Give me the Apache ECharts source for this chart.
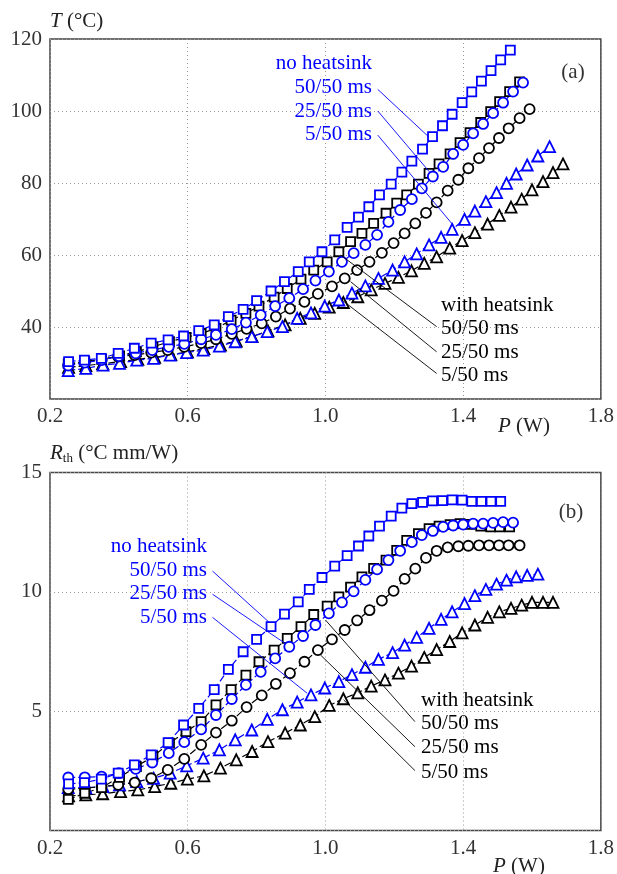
<!DOCTYPE html>
<html>
<head>
<meta charset="utf-8">
<script src="https://cdn.jsdelivr.net/npm/echarts@6/dist/echarts.min.js"></script>
<style>
  html, body { margin: 0; padding: 0; background: #fff; }
  #chart { width: 617px; height: 874px; }
</style>
</head>
<body>
<div id="chart"></div>
<script>
// power P (W) of each point, per series (nh = no heatsink, hs = with heatsink; 50/25/5 = pulse ms)
const pNh50 = [0.254, 0.300, 0.349, 0.398, 0.445, 0.494, 0.543, 0.588, 0.632, 0.677, 0.718, 0.761, 0.800, 0.842, 0.881, 0.921, 0.953, 0.990, 1.027, 1.063, 1.096, 1.126, 1.157, 1.191, 1.222, 1.251, 1.282, 1.311, 1.340, 1.368, 1.397, 1.425, 1.453, 1.481, 1.509, 1.537];
const pHs50 = [0.253, 0.301, 0.350, 0.402, 0.451, 0.499, 0.547, 0.595, 0.639, 0.682, 0.726, 0.769, 0.807, 0.851, 0.889, 0.929, 0.966, 1.005, 1.039, 1.073, 1.106, 1.140, 1.176, 1.207, 1.236, 1.270, 1.301, 1.330, 1.362, 1.391, 1.420, 1.451, 1.480, 1.506, 1.535, 1.564];
const pNh25 = [0.253, 0.301, 0.350, 0.400, 0.449, 0.497, 0.545, 0.590, 0.639, 0.682, 0.728, 0.769, 0.812, 0.854, 0.895, 0.935, 0.971, 1.010, 1.048, 1.082, 1.116, 1.150, 1.183, 1.217, 1.251, 1.280, 1.312, 1.342, 1.371, 1.400, 1.429, 1.458, 1.487, 1.516, 1.545, 1.574];
const pHs25 = [0.253, 0.301, 0.350, 0.398, 0.446, 0.494, 0.542, 0.590, 0.639, 0.682, 0.728, 0.771, 0.815, 0.856, 0.897, 0.939, 0.978, 1.019, 1.056, 1.092, 1.128, 1.164, 1.198, 1.230, 1.261, 1.292, 1.323, 1.355, 1.386, 1.415, 1.446, 1.475, 1.504, 1.532, 1.564, 1.593];
const pNh5  = [0.253, 0.304, 0.354, 0.402, 0.452, 0.501, 0.549, 0.597, 0.645, 0.692, 0.738, 0.786, 0.831, 0.875, 0.918, 0.958, 0.998, 1.039, 1.077, 1.116, 1.154, 1.195, 1.230, 1.265, 1.301, 1.336, 1.368, 1.404, 1.434, 1.466, 1.497, 1.526, 1.554, 1.586, 1.617, 1.651];
const pHs5  = [0.254, 0.304, 0.353, 0.405, 0.455, 0.504, 0.551, 0.599, 0.647, 0.695, 0.741, 0.787, 0.833, 0.883, 0.927, 0.969, 1.011, 1.052, 1.094, 1.133, 1.173, 1.212, 1.250, 1.287, 1.323, 1.361, 1.397, 1.434, 1.471, 1.505, 1.539, 1.570, 1.600, 1.632, 1.661, 1.690];

// (a) temperature T (°C)
const tNh50 = [30.4, 30.8, 31.3, 32.7, 34.1, 35.5, 36.4, 37.5, 39.0, 40.6, 42.9, 44.9, 47.3, 50.0, 52.6, 55.4, 58.1, 60.9, 64.2, 67.7, 70.5, 73.4, 76.7, 79.7, 83.0, 86.1, 89.4, 92.9, 95.9, 99.1, 102.3, 105.3, 108.3, 111.2, 114.2, 116.9];
const tHs50 = [29.8, 30.4, 31.0, 32.0, 33.1, 34.5, 35.9, 37.1, 38.2, 39.6, 41.9, 43.8, 45.8, 48.3, 50.7, 53.3, 55.8, 58.1, 60.9, 63.7, 66.0, 68.8, 71.6, 74.4, 76.7, 79.7, 82.7, 85.3, 88.1, 91.2, 94.0, 96.8, 99.8, 102.6, 105.4, 108.1];
const tNh25 = [29.3, 30.1, 30.8, 31.9, 32.7, 33.6, 34.5, 35.3, 36.6, 37.8, 39.4, 41.2, 43.3, 45.8, 48.0, 50.5, 52.9, 55.4, 58.1, 60.5, 62.8, 65.6, 69.2, 72.5, 75.5, 78.5, 81.8, 84.5, 88.1, 90.6, 93.8, 96.4, 99.4, 102.3, 105.4, 107.9];
const tHs25 = [29.4, 30.4, 31.0, 31.8, 32.2, 32.9, 33.6, 34.5, 35.5, 36.6, 38.1, 39.5, 41.0, 42.9, 45.1, 47.0, 49.2, 51.3, 53.5, 55.8, 58.1, 60.6, 63.3, 66.0, 68.8, 71.7, 74.6, 77.9, 80.9, 84.1, 86.9, 89.7, 92.5, 95.2, 98.0, 100.5];
const tNh5  = [27.9, 28.5, 29.4, 29.9, 30.8, 31.3, 32.2, 32.9, 33.6, 34.7, 35.9, 37.3, 38.7, 40.1, 42.4, 43.9, 45.8, 47.5, 49.4, 51.4, 53.5, 55.8, 58.1, 60.3, 62.8, 64.9, 67.1, 69.9, 72.2, 74.8, 77.3, 79.9, 82.5, 85.0, 87.5, 90.1];
const tHs5  = [28.8, 29.3, 29.8, 30.4, 31.0, 31.6, 32.3, 33.1, 34.0, 35.0, 36.1, 37.4, 38.9, 40.6, 42.4, 43.8, 45.5, 46.8, 48.4, 50.3, 52.1, 53.8, 55.6, 57.7, 59.5, 61.9, 64.0, 66.2, 68.6, 71.0, 73.3, 75.5, 78.1, 80.4, 82.9, 85.3];

// (b) thermal resistance Rth (°C mm/W), first 35 points of each series
const rNh50 = [1.95, 2.01, 2.15, 2.40, 2.75, 3.17, 3.68, 4.42, 5.12, 5.90, 6.75, 7.49, 8.01, 8.54, 9.07, 9.58, 10.10, 10.60, 11.08, 11.52, 11.92, 12.34, 12.75, 13.17, 13.51, 13.70, 13.75, 13.81, 13.82, 13.85, 13.84, 13.79, 13.79, 13.79, 13.79];
const rHs50 = [1.30, 1.56, 1.80, 2.23, 2.68, 3.10, 3.66, 4.14, 4.56, 5.26, 5.90, 6.51, 7.07, 7.56, 8.05, 8.54, 9.05, 9.40, 9.79, 10.20, 10.63, 10.98, 11.33, 11.74, 12.16, 12.44, 12.65, 12.75, 12.82, 12.86, 12.83, 12.75, 12.72, 12.72, 12.72];
const rNh25 = [2.22, 2.23, 2.26, 2.40, 2.58, 2.85, 3.24, 3.70, 4.24, 4.84, 5.51, 6.10, 6.65, 7.21, 7.70, 8.15, 8.61, 9.10, 9.56, 10.02, 10.50, 10.94, 11.33, 11.72, 12.08, 12.38, 12.55, 12.72, 12.78, 12.82, 12.86, 12.86, 12.89, 12.92, 12.90];
const rHs25 = [1.73, 1.77, 1.84, 1.91, 2.01, 2.19, 2.54, 3.00, 3.59, 4.10, 4.60, 5.17, 5.66, 6.14, 6.59, 7.07, 7.56, 8.01, 8.40, 8.80, 9.23, 9.63, 10.04, 10.54, 10.97, 11.42, 11.72, 11.86, 11.91, 11.93, 11.95, 11.95, 11.95, 11.95, 11.95];
const rNh5  = [1.80, 1.79, 1.84, 1.91, 2.05, 2.19, 2.40, 2.71, 3.03, 3.38, 3.80, 4.21, 4.66, 5.06, 5.38, 5.68, 5.97, 6.24, 6.53, 6.84, 7.17, 7.45, 7.77, 8.09, 8.47, 8.85, 9.16, 9.51, 9.84, 10.10, 10.32, 10.49, 10.63, 10.69, 10.74];
const rHs5  = [1.45, 1.49, 1.54, 1.63, 1.70, 1.84, 1.98, 2.15, 2.29, 2.61, 2.96, 3.31, 3.72, 4.08, 4.42, 4.77, 5.24, 5.52, 5.77, 6.05, 6.31, 6.59, 6.89, 7.25, 7.58, 7.92, 8.28, 8.61, 8.93, 9.16, 9.31, 9.44, 9.56, 9.56, 9.56];

// axis ticks
const xTicks = { min: 0.2, max: 1.8, step: 0.4 };
const tTicks = { min: 20, max: 120, step: 20 };
const rTicks = { min: 0, max: 15, step: 5 };

// leader lines [from, to] in data units
const leadA_blue  = [[[1.152, 106.0], [1.299, 92.9]], [[1.152, 100.0], [1.302, 83.1]], [[1.152, 93.3], [1.371, 68.3]]];
const leadA_black = [[[1.044, 60.0], [1.323, 40.1]], [[1.073, 52.6], [1.323, 33.1]], [[1.048, 47.5], [1.323, 27.1]]];
const leadB_blue  = [[[0.672, 10.87], [0.836, 8.73]], [[0.672, 9.90], [0.883, 7.84]], [[0.672, 8.93], [0.947, 5.75]]];
const leadB_black = [[[1.000, 8.82], [1.260, 4.56]], [[0.986, 7.35], [1.260, 3.51]], [[1.053, 5.47], [1.260, 2.51]]];

const BLUE = '#0000ff';
const BLACK = '#000000';
const FONT = "'Liberation Serif', 'Times New Roman', serif";

const chart = echarts.init(document.getElementById('chart'));

function zip(p, v) {
  return v.map((y, i) => [p[i], y]);
}

function mk(p, v, symbol, size, color, idx, lead) {
  const s = {
    type: 'line',
    xAxisIndex: idx,
    yAxisIndex: idx,
    data: zip(p, v),
    symbol: symbol,
    symbolSize: size,
    showAllSymbol: true,
    lineStyle: { color: color, width: 1.2, type: [7, 3] },
    itemStyle: { color: '#fff', borderColor: color, borderWidth: 1.8 },
    emphasis: { disabled: true },
    silent: true
  };
  if (lead) {
    s.markLine = {
      silent: true,
      symbol: ['none', 'none'],
      label: { show: false },
      lineStyle: { color: color, width: 0.9, type: 'solid' },
      data: lead.map(l => [{ coord: l[0] }, { coord: l[1] }])
    };
  }
  return s;
}

function xAxis(idx) {
  return {
    type: 'value', gridIndex: idx,
    min: xTicks.min, max: xTicks.max, interval: xTicks.step,
    axisLine: { show: false }, axisTick: { show: false },
    axisLabel: { color: '#333', fontFamily: FONT, fontSize: 21, margin: 7, formatter: v => v.toFixed(1) },
    splitLine: { show: true, lineStyle: { color: '#999', width: 1, type: [1, 3] } }
  };
}

function yAxis(idx, t) {
  return {
    type: 'value', gridIndex: idx,
    min: t.min, max: t.max, interval: t.step,
    axisLine: { show: false }, axisTick: { show: false },
    axisLabel: { color: '#333', fontFamily: FONT, fontSize: 21, margin: 8, formatter: v => (v === t.min ? '' : String(v)) },
    splitLine: { show: true, lineStyle: { color: '#999', width: 1, type: [1, 3] } }
  };
}

function txt(x, y, text, color, align) {
  return {
    type: 'text', x: x, y: y, silent: true,
    style: { text: text, fill: color, fontFamily: FONT, fontSize: 21, align: align, verticalAlign: 'middle' }
  };
}

function rich(x, y, text) {
  return {
    type: 'text', x: x, y: y, silent: true,
    style: {
      text: text, fill: '#222', fontFamily: FONT, fontSize: 21, align: 'left', verticalAlign: 'middle',
      rich: {
        i: { fontFamily: FONT, fontSize: 21, fontStyle: 'italic', fill: '#222', lineHeight: 24 },
        n: { fontFamily: FONT, fontSize: 21, fill: '#222', lineHeight: 24 },
        s: { fontFamily: FONT, fontSize: 13, fill: '#222', lineHeight: 12, verticalAlign: 'bottom' }
      }
    }
  };
}

const n = 35;
chart.setOption({
  animation: false,
  grid: [
    { left: 50, right: 14, top: 39, height: 360, show: true, borderColor: '#444', borderWidth: 1.5 },
    { left: 50, right: 14, top: 472.5, height: 358, show: true, borderColor: '#444', borderWidth: 1.5 }
  ],
  xAxis: [xAxis(0), xAxis(1)],
  yAxis: [yAxis(0, tTicks), yAxis(1, rTicks)],
  series: [
    mk(pHs5, tHs5, 'triangle', 11, BLACK, 0),
    mk(pNh5, tNh5, 'triangle', 11, BLUE, 0),
    mk(pHs25, tHs25, 'circle', 10, BLACK, 0),
    mk(pHs50, tHs50, 'rect', 9, BLACK, 0, leadA_black),
    mk(pNh25, tNh25, 'circle', 10, BLUE, 0),
    mk(pNh50, tNh50, 'rect', 9, BLUE, 0, leadA_blue),

    mk(pHs5.slice(0, n), rHs5, 'triangle', 11, BLACK, 1),
    mk(pNh5.slice(0, n), rNh5, 'triangle', 11, BLUE, 1),
    mk(pHs25.slice(0, n), rHs25, 'circle', 10, BLACK, 1),
    mk(pHs50.slice(0, n), rHs50, 'rect', 9, BLACK, 1, leadB_black),
    mk(pNh25.slice(0, n), rNh25, 'circle', 10, BLUE, 1),
    mk(pNh50.slice(0, n), rNh50, 'rect', 9, BLUE, 1, leadB_blue)
  ],
  graphic: [
    rich(50, 21, '{i|T}{n| (°C)}'),
    rich(498, 426, '{i|P}{n| (W)}'),
    rich(50, 453, '{i|R}{s|th}{n| (°C mm/W)}'),
    rich(493, 866, '{i|P}{n| (W)}'),
    txt(573, 72, '(a)', '#333', 'center'),
    txt(571, 512, '(b)', '#333', 'center'),

    txt(372, 63, 'no heatsink', BLUE, 'right'),
    txt(372, 87, '50/50 ms', BLUE, 'right'),
    txt(372, 111, '25/50 ms', BLUE, 'right'),
    txt(372, 134, '5/50 ms', BLUE, 'right'),
    txt(441, 305, 'with heatsink', BLACK, 'left'),
    txt(441, 328, '50/50 ms', BLACK, 'left'),
    txt(441, 352, '25/50 ms', BLACK, 'left'),
    txt(441, 375, '5/50 ms', BLACK, 'left'),

    txt(207, 546, 'no heatsink', BLUE, 'right'),
    txt(207, 570, '50/50 ms', BLUE, 'right'),
    txt(207, 593, '25/50 ms', BLUE, 'right'),
    txt(207, 617, '5/50 ms', BLUE, 'right'),
    txt(421, 700, 'with heatsink', BLACK, 'left'),
    txt(421, 723, '50/50 ms', BLACK, 'left'),
    txt(421, 747, '25/50 ms', BLACK, 'left'),
    txt(421, 772, '5/50 ms', BLACK, 'left')
  ]
});
</script>
</body>
</html>
